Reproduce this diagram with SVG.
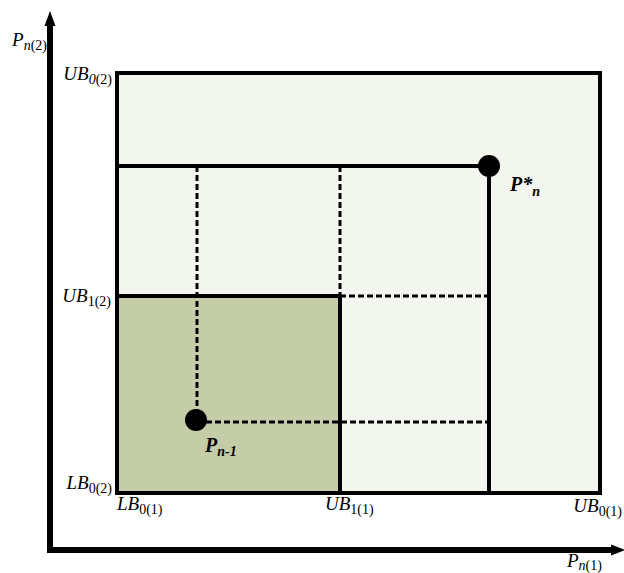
<svg xmlns="http://www.w3.org/2000/svg" width="624" height="573" viewBox="0 0 624 573">
<style>
.lbl{font-family:"Liberation Serif","DejaVu Serif",serif;font-size:19px;font-style:italic;fill:#000}
.end{text-anchor:end}
.sub{font-size:14px;font-style:normal}
.pt{font-family:"Liberation Serif","DejaVu Serif",serif;font-size:20px;font-style:italic;font-weight:bold;fill:#000}
.solid{stroke:#000;stroke-width:4;fill:none}
.dash{stroke:#000;stroke-width:3;fill:none;stroke-dasharray:6 3}
</style>
<rect width="624" height="573" fill="#fff"/>
<g id="axes">
<path d="M50,551 V24" stroke="#000" stroke-width="6" fill="none"/>
<polygon points="50,11 44.5,26 55.5,26" fill="#000"/>
<path d="M47,550 H612" stroke="#000" stroke-width="6" fill="none"/>
<polygon points="625,550 611,544.5 611,555.5" fill="#000"/>
</g>
<g id="outer-box">
<rect x="117" y="73" width="483" height="420" fill="#f3f6ef" stroke="none"/>
</g>
<g id="feasible-region">
<rect x="117" y="296" width="223" height="197" fill="#c5cca8" stroke="none"/>
</g>
<g id="connectors">
<path class="dash" d="M197,166 V420"/>
<path class="dash" d="M340,166 V296"/>
<path class="dash" d="M340,296 H489"/>
<path class="dash" d="M197,422 H489"/>
<path class="solid" d="M117,166 H489 V493"/>
<path class="solid" d="M117,296 H340 V493"/>
<rect class="solid" x="117" y="73" width="483" height="420"/>
</g>
<g id="point-pstar">
<circle cx="489" cy="166" r="11" fill="#000"/>
<text class="pt" x="510" y="191">P*<tspan font-size="14" dy="5">n</tspan></text>
</g>
<g id="point-pn1">
<circle cx="196" cy="420" r="11" fill="#000"/>
<text class="pt" x="205" y="452">P<tspan font-size="14" dy="4">n-1</tspan></text>
</g>
<g id="labels">
<text class="lbl end" x="47" y="46">P<tspan class="sub" dy="4"><tspan font-style="italic">n</tspan>(2)</tspan></text>
<text class="lbl end" x="112" y="80">UB<tspan class="sub" dy="4"><tspan font-style="italic">0</tspan>(2)</tspan></text>
<text class="lbl end" x="111" y="302">UB<tspan class="sub" dy="4">1(2)</tspan></text>
<text class="lbl end" x="112" y="489">LB<tspan class="sub" dy="4">0(2)</tspan></text>
<text class="lbl" x="117" y="510">LB<tspan class="sub" dy="4">0(1)</tspan></text>
<text class="lbl" x="325" y="510">UB<tspan class="sub" dy="4">1(1)</tspan></text>
<text class="lbl end" x="622" y="512">UB<tspan class="sub" dy="4">0(1)</tspan></text>
<text class="lbl" x="567" y="567">P<tspan class="sub" dy="3"><tspan font-style="italic">n</tspan>(1)</tspan></text>
</g>
</svg>
